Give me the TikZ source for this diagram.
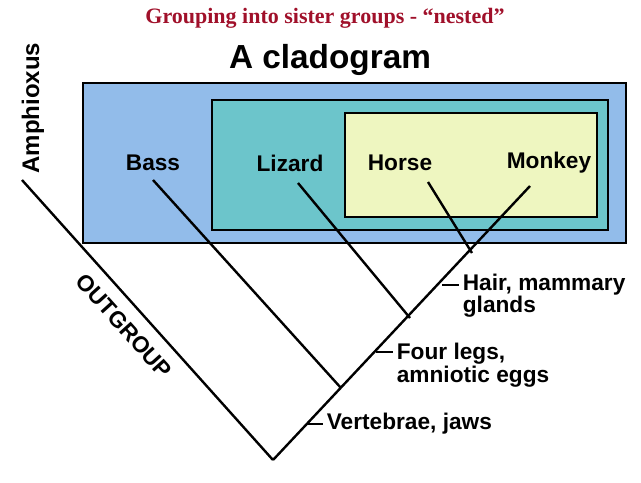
\documentclass[tikz,border=0pt]{standalone}
\usepackage{fontspec}
\setmainfont{Liberation Sans}
\newfontfamily\serif{Liberation Serif}
\definecolor{tred}{HTML}{A0102A}
\definecolor{bluef}{HTML}{92BCEA}
\definecolor{tealf}{HTML}{6CC5CB}
\definecolor{yelf}{HTML}{EEF6C0}
\begin{document}
\begin{tikzpicture}[x=0.75pt,y=-0.75pt,
  lab/.style={font=\fontsize{17}{19}\selectfont\bfseries,inner sep=0pt},
  txt/.style={font=\fontsize{17}{17}\selectfont\bfseries,inner sep=0pt,anchor=west,align=left},
  br/.style={line width=1.8pt},
  box/.style={draw=black,line width=1.8pt}]
\useasboundingbox (0,0) rectangle (641,482);
\node[font=\serif\fontsize{16.5}{18}\selectfont\bfseries,text=tred] (title) at (325,18) {Grouping into sister groups - “nested”};
\node[font=\fontsize{25}{27}\selectfont\bfseries] (cl) at (330,60) {A cladogram};
\draw[box,fill=bluef] (83,83) rectangle (626,243);
\draw[box,fill=tealf] (212,100) rectangle (608,230);
\draw[box,fill=yelf] (345,113) rectangle (597,217);
\node[lab] (bass) at (153,163) {Bass};
\node[lab] (liz) at (290,163) {Lizard};
\node[lab] (horse) at (400,163) {Horse};
\node[lab] (monk) at (549,163) {Monkey};
\node[lab,rotate=90,font=\fontsize{18}{19}\selectfont\bfseries] (amph) at (33,108) {Amphioxus};
\coordinate (root) at (273,460);
\coordinate (mtop) at (530,186);
\coordinate (atop) at (22,180);
\coordinate (htop) at (428,182);
\coordinate (ltop) at (298,183);
\coordinate (btop) at (153,180);
\coordinate (j1) at (341,388);
\coordinate (j2) at (410,318);
\coordinate (j3) at (472,253);
\draw[br] (root) -- (mtop);
\draw[br] (root) -- (atop);
\draw[br] (htop) -- (j3);
\draw[br] (ltop) -- (j2);
\draw[br] (btop) -- (j1);
\coordinate (t1) at (306,424);
\coordinate (t2) at (376,352);
\coordinate (t3) at (442,285);
\draw[br] (t1) -- ++(17,0) node[txt,right=2pt] (v) {Vertebrae, jaws};
\draw[br] (t2) -- ++(17,0) node[txt,right=2pt,yshift=-10pt] (f) {Four legs,\\amniotic eggs};
\draw[br] (t3) -- ++(17,0) node[txt,right=2pt,yshift=-8pt] (h) {Hair, mammary\\glands};
\node[lab,rotate=-48] (out) at (124,326) {OUTGROUP};
\end{tikzpicture}
\end{document}
